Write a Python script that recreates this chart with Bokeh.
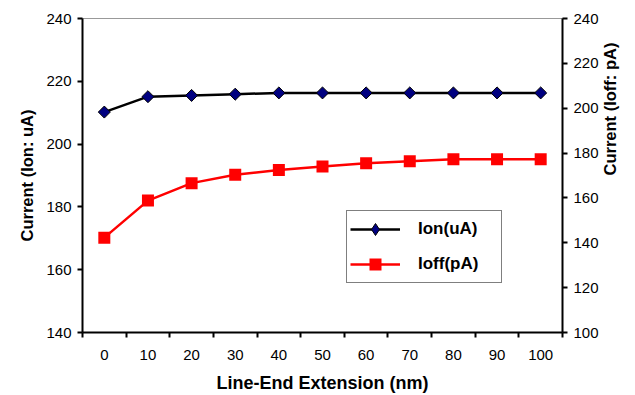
from bokeh.plotting import figure
from bokeh.models import LinearAxis, Range1d, FixedTicker, Legend, LegendItem, ColumnDataSource
from bokeh.embed import file_html
from bokeh.resources import INLINE
import math

ext = [0, 10, 20, 30, 40, 50, 60, 70, 80, 90, 100]
ion = [210.2, 215.1, 215.5, 215.9, 216.3, 216.3, 216.3, 216.3, 216.3, 216.3, 216.3]
ioff = [142.3, 158.8, 166.6, 170.3, 172.5, 174.0, 175.5, 176.3, 177.2, 177.2, 177.2]
left_ticks = [140, 160, 180, 200, 220, 240]
right_ticks = [100, 120, 140, 160, 180, 200, 220, 240]
x_bounds = [-5, 5, 15, 25, 35, 45, 55, 65, 75, 85, 95, 105]

FONT = "Liberation Sans"

p = figure(width=635, height=395, x_range=Range1d(-5, 105), y_range=Range1d(140, 240),
           output_backend="svg", toolbar_location=None,
           min_border_left=82, min_border_right=73, min_border_top=18, min_border_bottom=61)
p.extra_y_ranges = {"ioff": Range1d(100, 240)}
p.grid.visible = False
p.outline_line_color = "#999999"
p.outline_line_width = 1
p.background_fill_color = "white"
p.border_fill_color = "white"

def style_axis(ax, title_size):
    ax.axis_line_color = "black"
    ax.axis_line_width = 2
    ax.major_tick_line_color = "black"
    ax.major_tick_line_width = 2
    ax.minor_tick_line_color = "black"
    ax.minor_tick_line_width = 2
    ax.major_label_text_font = FONT
    ax.major_label_text_font_size = "15px"
    ax.major_label_text_color = "black"
    ax.axis_label_text_font = FONT
    ax.axis_label_text_font_size = title_size
    ax.axis_label_text_font_style = "bold"
    ax.axis_label_text_color = "black"

# bottom axis
xa = p.xaxis[0]
xa.ticker = FixedTicker(ticks=ext, minor_ticks=x_bounds)
xa.major_tick_out = 0
xa.major_tick_in = 0
xa.minor_tick_out = 5
xa.minor_tick_in = 0
xa.major_label_standoff = 12
xa.axis_label = "Line-End Extension (nm)"
xa.axis_label_standoff = 10
style_axis(xa, "18px")

# left axis
ya = p.yaxis[0]
ya.ticker = FixedTicker(ticks=left_ticks)
ya.major_tick_out = 5
ya.major_tick_in = 0
ya.minor_tick_out = 0
ya.minor_tick_in = 0
ya.major_label_standoff = 6
ya.axis_label = "Current (Ion: uA)"
ya.axis_label_standoff = 7
style_axis(ya, "16.5px")

# right axis
ra = LinearAxis(y_range_name="ioff", ticker=FixedTicker(ticks=right_ticks))
ra.major_tick_out = 5
ra.major_tick_in = 0
ra.minor_tick_out = 0
ra.minor_tick_in = 0
ra.major_label_standoff = 6
ra.axis_label = "Current (Ioff: pA)"
ra.axis_label_standoff = 8
ra.axis_label_orientation = math.pi / 2
style_axis(ra, "16.5px")
p.add_layout(ra, "right")

src = ColumnDataSource(dict(x=ext, ion=ion, ioff=ioff))

l1 = p.line("x", "ion", source=src, line_color="black", line_width=2.5)
m1 = p.scatter("x", "ion", source=src, marker="square", angle=math.pi / 4, size=8.5,
               fill_color="#000080", line_color="black", line_width=1)
l2 = p.line("x", "ioff", source=src, y_range_name="ioff", line_color="#ff0000", line_width=2.5)
m2 = p.scatter("x", "ioff", source=src, y_range_name="ioff", marker="square", size=12,
               fill_color="#ff0000", line_color="#ff0000", line_width=0)

# legend-only proxy (hidden on the plot) so the legend shows a diamond; legend markers ignore angle
proxy = p.scatter("x", "ion", source=src, marker="diamond", fill_color="#000080",
                  line_color="black", line_width=1)
proxy.visible = False

legend = Legend(items=[LegendItem(label="Ion(uA)", renderers=[l1, proxy]),
                       LegendItem(label="Ioff(pA)", renderers=[l2, m2])],
                location=(264, 49))
legend.border_line_color = "black"
legend.border_line_width = 1.5
legend.background_fill_color = "white"
legend.background_fill_alpha = 1
legend.label_text_font = FONT
legend.label_text_font_size = "17px"
legend.label_text_font_style = "bold"
legend.label_text_color = "black"
legend.glyph_width = 50
legend.glyph_height = 30
legend.label_height = 20
legend.label_width = 80
legend.label_standoff = 18
legend.spacing = 5
legend.padding = 3
legend.margin = 0
p.add_layout(legend, "center")

open("out.html", "w").write(file_html(p, INLINE))
